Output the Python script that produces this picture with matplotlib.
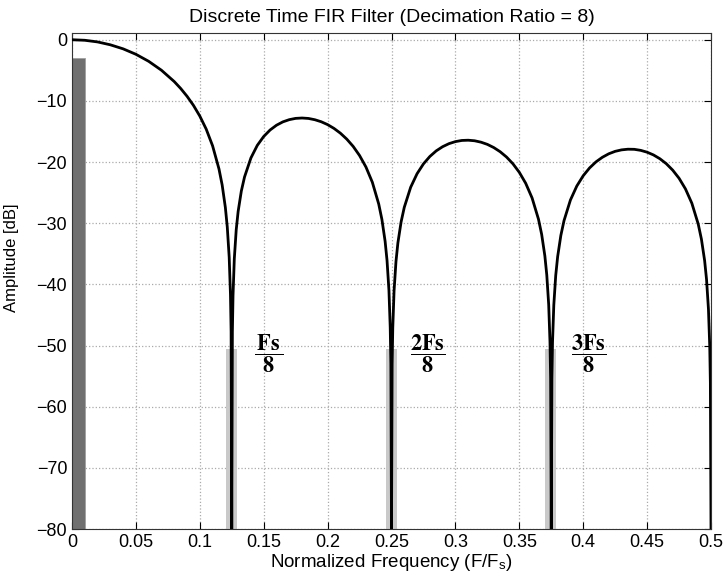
import numpy as np
import matplotlib.pyplot as plt

plt.rcParams['font.family'] = ['Liberation Sans', 'DejaVu Sans']
plt.rcParams['mathtext.fontset'] = 'stix'

# response (normalized freq, dB); -80 = floor of the plot
freq = [0.0, 0.01, 0.02, 0.03, 0.04, 0.05, 0.06, 0.07, 0.08, 0.085, 0.09, 0.095, 0.10,
        0.105, 0.11, 0.115, 0.1175, 0.12, 0.1215, 0.123, 0.124, 0.1245, 0.125,
        0.1255, 0.126, 0.127, 0.1285, 0.13, 0.1325, 0.135, 0.14, 0.145, 0.15, 0.155,
        0.16, 0.165, 0.17, 0.175, 0.18, 0.185, 0.19, 0.195, 0.20, 0.205, 0.21, 0.215,
        0.22, 0.225, 0.23, 0.235, 0.24, 0.2425, 0.245, 0.2465, 0.248, 0.249, 0.2495, 0.25,
        0.2505, 0.251, 0.252, 0.2535, 0.255, 0.2575, 0.26, 0.265, 0.27, 0.275, 0.28,
        0.285, 0.29, 0.295, 0.30, 0.305, 0.31, 0.315, 0.32, 0.325, 0.33, 0.335, 0.34,
        0.345, 0.35, 0.355, 0.36, 0.365, 0.3675, 0.37, 0.3715, 0.373, 0.374, 0.3745, 0.375,
        0.3755, 0.376, 0.377, 0.3785, 0.38, 0.3825, 0.385, 0.39, 0.395, 0.40, 0.405,
        0.41, 0.415, 0.42, 0.425, 0.43, 0.435, 0.44, 0.445, 0.45, 0.455, 0.46, 0.465,
        0.47, 0.475, 0.48, 0.485, 0.49, 0.4925, 0.495, 0.4965, 0.498, 0.499, 0.4995, 0.5]
amp_db = [0.0, -0.09, -0.36, -0.83, -1.49, -2.38, -3.53, -4.99, -6.84, -7.96, -9.24, -10.72, -12.48,
          -14.61, -17.34, -21.12, -23.75, -27.42, -30.61, -35.56, -41.65, -47.70, -80.0,
          -47.77, -41.78, -35.83, -31.07, -28.08, -24.74, -22.44, -19.33, -17.27, -15.82, -14.76,
          -13.98, -13.43, -13.07, -12.86, -12.80, -12.87, -13.08, -13.41, -13.88, -14.50, -15.28, -16.25,
          -17.44, -18.93, -20.81, -23.30, -26.86, -29.39, -32.95, -36.08, -40.97, -47.02, -53.05, -80.0,
          -53.08, -47.08, -41.08, -36.27, -33.22, -29.80, -27.40, -24.12, -21.91, -20.30, -19.09,
          -18.17, -17.49, -16.99, -16.66, -16.47, -16.43, -16.52, -16.75, -17.11, -17.63, -18.31, -19.18,
          -20.28, -21.68, -23.47, -25.87, -29.34, -31.83, -35.35, -38.46, -43.33, -49.36, -55.38, -80.0,
          -55.40, -49.38, -43.37, -38.54, -35.47, -32.00, -29.57, -26.21, -23.92, -22.24, -20.96,
          -19.97, -19.22, -18.65, -18.25, -18.01, -17.90, -17.92, -18.09, -18.39, -18.84, -19.46, -20.27,
          -21.32, -22.65, -24.39, -26.73, -30.14, -32.61, -36.10, -39.18, -44.04, -50.06, -56.08, -80.0]

# shaded bands
signal_left, signal_right, signal_top = 0.0003, 0.0102, -3.0
alias_centers = [0.1245, 0.25, 0.3747]
alias_width = 0.0085
alias_top = -50.5

labels = [r'$\dfrac{\,\mathbf{Fs}\,}{\mathbf{8}}$', r'$\dfrac{\mathbf{2Fs}}{\mathbf{8}}$',
          r'$\dfrac{\mathbf{3Fs}}{\mathbf{8}}$']
label_x = [0.154, 0.2786, 0.404]

fig = plt.figure(figsize=(7.25, 5.83), dpi=100)
ax = fig.add_axes([0.0993, 0.0926, 0.8814, 0.8508])

ax.bar(signal_left, signal_top + 80, width=signal_right - signal_left, bottom=-80,
       align='edge', color='#707070', edgecolor='#a0a0a0', linewidth=0.6, zorder=2)
ax.bar(alias_centers, [alias_top + 80] * 3, width=alias_width, bottom=-80,
       color='#c9c9c9', linewidth=0, zorder=2)
ax.plot(freq, amp_db, color='black', linewidth=2.0, solid_joinstyle='round', zorder=3)

for x, s in zip(label_x, labels):
    ax.text(x, -51.3, s, fontsize=16, ha='center', va='center', zorder=4)

ax.set_xlim(0, 0.5)
ax.set_ylim(-80, 1.1)
ax.set_xticks(np.arange(0, 0.51, 0.05))
ax.set_xticklabels(['0', '0.05', '0.1', '0.15', '0.2', '0.25', '0.3', '0.35', '0.4', '0.45', '0.5'])
ax.set_yticks(np.arange(-80, 1, 10))
ax.tick_params(direction='in', top=True, right=True, labelsize=13, length=5, width=0.8)
ax.grid(True, linestyle=':', color='#aaaaaa', linewidth=0.9)
for sp in ax.spines.values():
    sp.set_color('#333333')

ax.set_title('Discrete Time FIR Filter (Decimation Ratio = 8)', fontsize=14, pad=8)
ax.set_xlabel(r'Normalized Frequency (F/F$_\mathregular{s}$)', fontsize=13.5, labelpad=1)
ax.set_ylabel('Amplitude [dB]', fontsize=12)
ax.yaxis.set_label_coords(-0.083, 0.546)

fig.savefig('out.png', dpi=100)
